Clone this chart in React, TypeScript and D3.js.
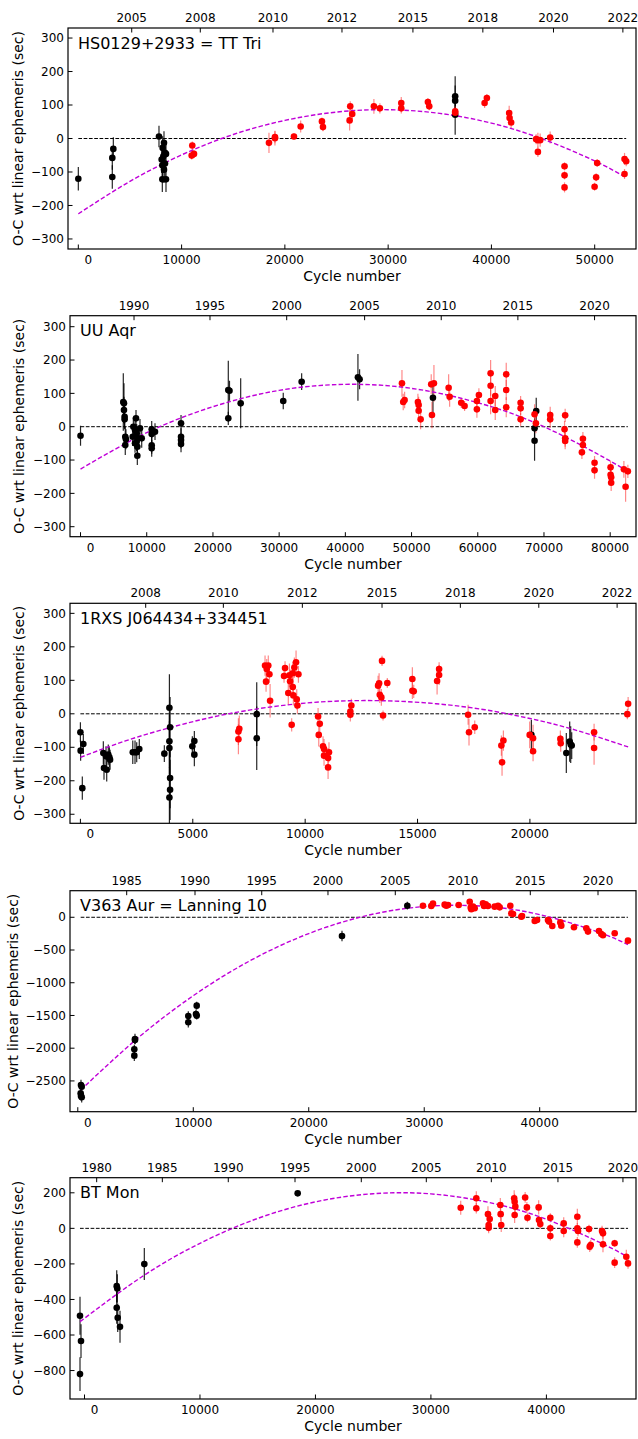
import React from "react";
import * as d3 from "d3";

type Pt = [number, number, number]; // cycle, O-C (sec), error (sec)
type Fp = [number, number]; // fit curve read-off: cycle, O-C

// HS0129+2933 = TT Tri
const ttTriBlack: Pt[] = [
  [0, -120, 35], [3290, -115, 35], [3290, -58, 35], [3390, -31, 35], [7810, 6, 32],
  [8295, -13, 35], [8166, -28, 35], [8392, -43, 38], [8230, -53, 38], [8489, -46, 35],
  [8070, -63, 40], [8134, -80, 40], [8392, -75, 40], [8295, -93, 40], [8134, -122, 38],
  [8489, -122, 38], [36490, 126, 60], [36490, 113, 45], [36490, 71, 60],
];
const ttTriRed: Pt[] = [
  [10977, -51, 12], [11035, -21, 12], [11200, -46, 12], [18460, -13, 30], [19040, 1, 22],
  [19040, 4, 18], [20880, 6, 10], [21530, 36, 18], [23590, 51, 12], [23690, 34, 12],
  [26270, 54, 30], [26330, 96, 15], [26520, 73, 15], [28620, 96, 22], [29200, 90, 15],
  [31270, 106, 18], [31270, 90, 15], [33850, 109, 12], [33980, 96, 12], [36490, 81, 15],
  [36490, 77, 15], [39340, 106, 15], [39560, 121, 12], [41720, 76, 22], [41760, 61, 20],
  [41910, 48, 18], [44330, -2, 15], [44500, -5, 22], [44720, -5, 20], [44500, -40, 15],
  [45690, 3, 18], [47080, -83, 12], [47080, -110, 12], [47080, -146, 15], [50240, -73, 12],
  [50140, -116, 12], [49990, -144, 12], [52890, -61, 18], [53050, -68, 15], [52890, -106, 15],
];
const ttTriFit: Fp[] = [
  [0, -225], [5000, -128], [10000, -49], [15000, 12], [20000, 54], [25000, 79], [30000, 86],
  [35000, 75], [40000, 46], [45000, -2], [50000, -67], [53050, -117],
];
const ttTriYears: Fp[] = [
  [2005, 5170], [2008, 11810], [2010, 18850], [2012, 25530], [2015, 32400], [2018, 39170],
  [2020, 46010], [2022, 52730],
];

// UU Aqr
const uuAqrBlack: Pt[] = [
  [0, -27, 30], [6460, 74, 86], [6560, 70, 60], [6560, 50, 40], [6660, 30, 35], [6660, 22, 30],
  [6760, -30, 30], [6860, -38, 30], [6760, -55, 30], [8380, 25, 25], [7980, 0, 28],
  [8230, -10, 28], [7880, -30, 28], [8480, -20, 28], [8730, -35, 28], [8480, -45, 28],
  [8980, -5, 28], [9240, -35, 28], [8580, -60, 28], [8580, -87, 28], [8230, -50, 28],
  [10750, -8, 25], [10750, -22, 25], [10750, -56, 25], [10750, -65, 25], [11250, -15, 25],
  [15180, 10, 25], [15180, -30, 25], [15180, -40, 25], [15180, -52, 25], [22320, 25, 20],
  [22320, 110, 88], [22500, 108, 30], [24190, 70, 75], [30620, 77, 25], [33400, 135, 25],
  [41900, 148, 70], [42150, 142, 30], [53230, 87, 50], [68830, 47, 40], [68580, -5, 30],
  [68580, -42, 60],
];
const uuAqrRed: Pt[] = [
  [48550, 130, 40], [48740, 74, 25], [48950, 80, 25], [50960, 74, 25], [51070, 65, 25],
  [51070, 48, 25], [51370, 22, 30], [52970, 127, 30], [53380, 130, 55], [53080, 35, 40],
  [55600, 117, 40], [55750, 90, 30], [57500, 72, 15], [58010, 62, 15], [59870, 77, 25],
  [59870, 52, 25], [60170, 95, 20], [61940, 160, 40], [61940, 123, 30], [61940, 77, 40],
  [62640, 92, 30], [62640, 50, 30], [64300, 157, 35], [64300, 110, 30], [64300, 58, 30],
  [66470, 72, 20], [66470, 55, 20], [66470, 22, 20], [68580, 37, 30], [68780, 10, 30],
  [70940, 35, 25], [70940, 22, 25], [73200, 34, 20], [73110, -8, 25], [73200, -35, 25],
  [73200, -43, 25], [75880, -36, 20], [75880, -55, 20], [75730, -77, 20], [77640, -108, 20],
  [77640, -131, 25], [80060, -122, 20], [80060, -144, 20], [80150, -152, 25], [80150, -168, 25],
  [82070, -128, 25], [82670, -134, 20], [82330, -180, 45],
];
const uuAqrFit: Fp[] = [
  [0, -127], [10000, -18], [20000, 60], [30000, 109], [40000, 127], [50000, 115],
  [60000, 72], [70000, 0], [80000, -103], [82670, -136],
];
const uuAqrYears: Fp[] = [
  [1990, 8080], [1995, 19555], [2000, 31140], [2005, 42910], [2010, 54480], [2015, 66060],
  [2020, 77640],
];

// 1RXS J064434+334451
const rxsBlack: Pt[] = [
  [0, -55, 30], [10, -110, 30], [130, -90, 30], [85, -222, 35], [1020, -117, 35],
  [1050, -162, 35], [1170, -167, 35], [1140, -127, 30], [1240, -122, 30], [1320, -137, 30],
  [1290, -130, 30], [2330, -115, 35], [2430, -115, 35], [2505, -115, 30], [2620, -105, 30],
  [3735, -119, 25], [3960, 18, 100], [3990, -40, 90], [3960, -82, 80], [3960, -102, 80],
  [3990, -192, 90], [3990, -227, 90], [3960, -250, 90], [4980, -97, 30], [5070, -81, 30],
  [5070, -122, 35], [7845, -1, 95], [7845, -73, 95], [20065, -63, 45], [21620, -117, 60],
  [21770, -83, 60], [21815, -92, 55], [21860, -95, 40],
];
const rxsRed: Pt[] = [
  [7030, -53, 40], [7070, -45, 40], [7030, -76, 45], [8215, 144, 30], [8290, 134, 30],
  [8360, 144, 30], [8260, 96, 30], [8410, 118, 25], [8440, 39, 50], [9060, 113, 20],
  [9105, 137, 20], [9250, 62, 35], [9300, 115, 35], [9330, 97, 35], [9450, 121, 35],
  [9400, -33, 20], [9450, 80, 30], [9475, 55, 30], [9520, 138, 30], [9595, 154, 35],
  [9625, 43, 30], [9655, 25, 25], [9700, 118, 25], [10575, -8, 25], [10650, -30, 30],
  [10605, -63, 35], [10795, -97, 30], [10840, -105, 30], [10840, -125, 30], [11020, -132, 30],
  [11060, -115, 30], [11020, -160, 35], [12010, 7, 20], [12010, -3, 20], [12055, 25, 20],
  [13245, 84, 30], [13290, 91, 30], [13420, 158, 15], [13320, 57, 25], [13390, 49, 25],
  [13465, -5, 15], [13655, 92, 15], [14770, 104, 35], [14770, 69, 25], [14830, 67, 20],
  [15870, 98, 40], [15960, 116, 30], [15960, 134, 20], [17250, -3, 30], [17290, -55, 40],
  [17545, -40, 20], [18730, -95, 30], [18820, -80, 30], [18760, -145, 40], [19990, -63, 40],
  [20140, -73, 40], [20140, -112, 30], [21355, -75, 25], [21370, -88, 25], [22855, -55, 25],
  [22855, -102, 50], [24335, -1, 15], [24370, 30, 20],
];
const rxsFit: Fp[] = [
  [0, -130], [2000, -81], [4000, -41], [6000, -8], [8000, 16], [10000, 32], [12000, 39],
  [14000, 38], [16000, 29], [18000, 12], [20000, -14], [22000, -48], [24370, -99],
];
const rxsYears: Fp[] = [
  [2008, 2905], [2010, 6360], [2012, 9875], [2015, 13420], [2018, 16905], [2020, 20395],
  [2022, 23880],
];

// V363 Aur = Lanning 10
const v363Black: Pt[] = [
  [277, -2561, 80], [338, -2587, 60], [250, -2688, 80], [277, -2729, 70], [338, -2749, 80],
  [4953, -1859, 80], [4953, -1874, 60], [4895, -2016, 70], [4895, -2114, 80], [9570, -1507, 70],
  [9570, -1604, 80], [10297, -1350, 60], [10237, -1477, 70], [10297, -1502, 60],
  [22880, -286, 80], [28535, 177, 60],
];
const v363Red: Pt[] = [
  [29890, 177, 15], [30610, 172, 15], [30760, 208, 15], [31770, 193, 15], [31910, 177, 15],
  [32060, 187, 15], [32985, 187, 15], [33940, 238, 15], [34025, 147, 15], [34225, 162, 15],
  [34370, 137, 15], [34080, 122, 15], [35090, 213, 15], [35180, 172, 15], [35325, 198, 15],
  [35520, 172, 15], [36100, 162, 15], [36390, 177, 15], [36535, 152, 15], [37455, 177, 15],
  [37540, 59, 15], [37690, 49, 15], [38410, 8, 15], [38470, 18, 15], [39570, -56, 15],
  [39770, -41, 15], [40720, -41, 15], [40805, -66, 15], [41090, -133, 15], [41785, -78, 15],
  [41870, -128, 15], [42970, -153, 15], [44040, -168, 15], [44180, -219, 15], [45135, -209, 15],
  [45335, -255, 15], [45480, -275, 15], [46495, -244, 15], [47645, -357, 15],
];
const v363Fit: Fp[] = [
  [250, -2641], [5000, -1875], [10000, -1198], [15000, -656], [20000, -249], [25000, 25],
  [30000, 164], [35000, 170], [40000, 41], [45000, -222], [47645, -416],
];
const v363Years: Fp[] = [
  [1985, 4235], [1990, 10150], [1995, 15930], [2000, 21665], [2005, 27495], [2010, 33360],
  [2015, 39185], [2020, 45050],
];

// BT Mon
const btMonBlack: Pt[] = [
  [-390, -492, 107], [-303, -634, 95], [-390, -820, 95], [2790, -325, 90], [2840, -338, 80],
  [2790, -447, 90], [2875, -503, 80], [3075, -554, 90], [5180, -201, 90], [18460, 197, 8],
];
const btMonRed: Pt[] = [
  [32580, 116, 40], [33930, 169, 40], [33930, 113, 30], [34940, 80, 45], [35000, 19, 35],
  [35090, 52, 40], [35000, 3, 30], [36010, 131, 40], [36040, 80, 40], [36090, 19, 40],
  [37210, 169, 45], [37250, 150, 45], [37310, 122, 45], [37250, 75, 45], [38160, 174, 30],
  [38310, 118, 30], [38360, 60, 25], [39330, 118, 40], [39360, 47, 25], [39470, 24, 25],
  [40340, 60, 25], [40340, 0, 25], [40340, -43, 25], [41500, 28, 35], [41500, -15, 35],
  [42680, 65, 45], [42680, 0, 30], [42740, -15, 30], [42680, -79, 30], [43690, -4, 25],
  [43750, -103, 30], [43840, -94, 30], [44820, -15, 30], [44900, -28, 30], [44900, -90, 45],
  [45910, -84, 20], [45910, -193, 30], [46920, -160, 40], [47070, -197, 30],
];
const btMonFit: Fp[] = [
  [-390, -525], [5000, -271], [10000, -84], [15000, 56], [20000, 149], [25000, 195],
  [30000, 194], [35000, 146], [40000, 51], [45000, -91], [47070, -163],
];
const btMonYears: Fp[] = [
  [1980, 1055], [1985, 6740], [1990, 12450], [1995, 18230], [2000, 23970], [2005, 29600],
  [2010, 35230], [2015, 41000], [2020, 46630],
];

const stepTicks = [-300, -200, -100, 0, 100, 200, 300];

const panels = [
  {
    title: "HS0129+2933 = TT Tri", black: ttTriBlack, red: ttTriRed, fit: ttTriFit, years: ttTriYears,
    xTicks: [0, 10000, 20000, 30000, 40000, 50000], yTicks: stepTicks,
    xDomain: [-1000, 54000], yDomain: [-330, 330],
    top: 28, bottom: 249, left: 68, yLabelX: 18,
  },
  {
    title: "UU Aqr", black: uuAqrBlack, red: uuAqrRed, fit: uuAqrFit, years: uuAqrYears,
    xTicks: [0, 10000, 20000, 30000, 40000, 50000, 60000, 70000, 80000], yTicks: stepTicks,
    xDomain: [-1590, 83900], yDomain: [-330, 333],
    top: 315.7, bottom: 536.7, left: 70, yLabelX: 19,
  },
  {
    title: "1RXS J064434+334451", black: rxsBlack, red: rxsRed, fit: rxsFit, years: rxsYears,
    xTicks: [0, 5000, 10000, 15000, 20000], yTicks: stepTicks,
    xDomain: [-463, 24720], yDomain: [-327, 330],
    top: 603.3, bottom: 823.3, left: 70, yLabelX: 19,
  },
  {
    title: "V363 Aur = Lanning 10", black: v363Black, red: v363Red, fit: v363Fit, years: v363Years,
    xTicks: [0, 10000, 20000, 30000, 40000], yTicks: [0, -500, -1000, -1500, -2000, -2500],
    xDomain: [-675, 48340], yDomain: [-2970, 406],
    top: 890.7, bottom: 1111.7, left: 70, yLabelX: 13,
  },
  {
    title: "BT Mon", black: btMonBlack, red: btMonRed, fit: btMonFit, years: btMonYears,
    xTicks: [0, 10000, 20000, 30000, 40000], yTicks: [200, 0, -200, -400, -600, -800],
    xDomain: [-1256, 47760], yDomain: [-960, 285],
    top: 1177.7, bottom: 1399, left: 70, yLabelX: 18,
  },
];

const W = 638;
const H = 1439;
const RIGHT = 636;
const FONT = "DejaVu Sans, Liberation Sans, sans-serif";
const TICK = 4.5;

const fmt = (v: number) => (v < 0 ? "\u2212" + Math.abs(v) : String(v));

function Panel({ p, idx }: { p: any; idx: number }) {
  const x = d3.scaleLinear().domain(p.xDomain).range([p.left, RIGHT]);
  const y = d3.scaleLinear().domain(p.yDomain).range([p.bottom, p.top]);
  const all: Pt[] = [...p.black, ...p.red];
  const [c0, c1] = d3.extent(all, (d) => d[0]) as [number, number];
  const line = d3
    .line<Fp>()
    .x((d) => x(d[0]))
    .y((d) => y(d[1]))
    .curve(d3.curveNatural);
  const clip = `clip-${idx}`;
  const midY = (p.top + p.bottom) / 2;

  const bars = (pts: Pt[], color: string) =>
    pts.map((d, i) => (
      <line key={i} x1={x(d[0])} x2={x(d[0])} y1={y(d[1] - d[2])} y2={y(d[1] + d[2])}
        stroke={color} strokeWidth={1.2} />
    ));
  const dots = (pts: Pt[], color: string) =>
    pts.map((d, i) => <circle key={i} cx={x(d[0])} cy={y(d[1])} r={3.3} fill={color} />);

  return (
    <g>
      <defs>
        <clipPath id={clip}>
          <rect x={p.left} y={p.top} width={RIGHT - p.left} height={p.bottom - p.top} />
        </clipPath>
      </defs>
      <g clipPath={`url(#${clip})`}>
        <line x1={x(c0)} x2={x(c1)} y1={y(0)} y2={y(0)} stroke="#000" strokeWidth={1}
          strokeDasharray="3.7,1.6" />
        {bars(p.black, "rgba(0,0,0,0.85)")}
        {bars(p.red, "rgba(255,40,40,0.55)")}
        <path d={line(p.fit) || ""} fill="none" stroke="#c000d8" strokeWidth={1.4}
          strokeDasharray="4.5,2.2" />
        {dots(p.black, "#000")}
        {dots(p.red, "#ff0000")}
      </g>
      <rect x={p.left} y={p.top} width={RIGHT - p.left} height={p.bottom - p.top}
        fill="none" stroke="#000" strokeWidth={1.2} />
      {p.yTicks.map((t: number) => (
        <g key={"y" + t}>
          <line x1={p.left} x2={p.left + TICK} y1={y(t)} y2={y(t)} stroke="#000" />
          <text x={p.left - 4} y={y(t)} dy="0.35em" textAnchor="end" fontSize={12}>{fmt(t)}</text>
        </g>
      ))}
      {p.xTicks.map((t: number) => (
        <g key={"x" + t}>
          <line x1={x(t)} x2={x(t)} y1={p.bottom} y2={p.bottom - TICK} stroke="#000" />
          <text x={x(t) + (t === 0 ? 10 : 0)} y={p.bottom + 15} textAnchor="middle" fontSize={12}>
            {fmt(t)}
          </text>
        </g>
      ))}
      {p.years.map((d: Fp) => (
        <g key={"t" + d[0]}>
          <line x1={x(d[1])} x2={x(d[1])} y1={p.top} y2={p.top + TICK} stroke="#000" />
          <text x={x(d[1])} y={p.top - 6} textAnchor="middle" fontSize={12}>{d[0]}</text>
        </g>
      ))}
      <text x={p.left + 10} y={p.top + 20.5} fontSize={16}>{p.title}</text>
      <text x={(p.left + RIGHT) / 2} y={p.bottom + 32} textAnchor="middle" fontSize={14}>
        Cycle number
      </text>
      <text transform={`translate(${p.yLabelX},${midY}) rotate(-90)`} textAnchor="middle"
        dy="0.35em" fontSize={14}>
        O-C wrt linear ephemeris (sec)
      </text>
    </g>
  );
}

export default function App() {
  return (
    <svg width={W} height={H} viewBox={`0 0 ${W} ${H}`}
      style={{ position: "absolute", left: 0, top: 0, background: "#fff" }}
      fontFamily={FONT} fill="#000">
      <rect width={W} height={H} fill="#fff" />
      {panels.map((p, i) => (
        <Panel key={i} p={p} idx={i} />
      ))}
    </svg>
  );
}
